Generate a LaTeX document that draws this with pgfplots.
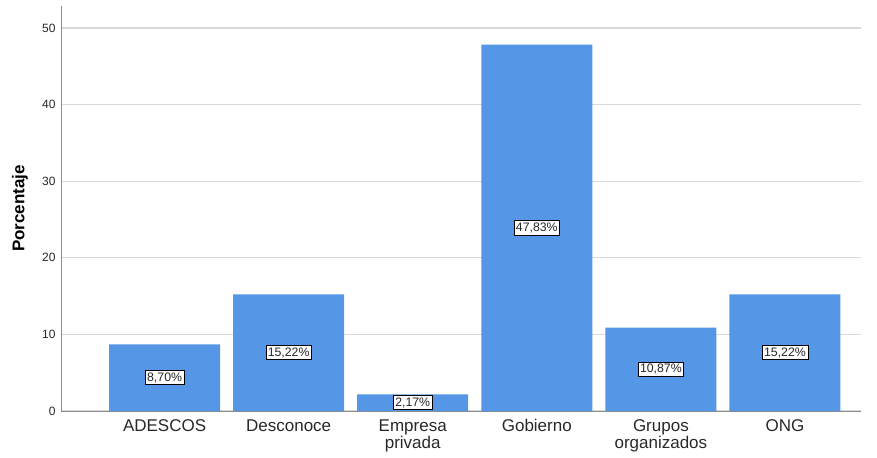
\documentclass[border=0pt]{standalone}
\usepackage{pgfplots}
\pgfplotsset{compat=1.18}
\usepackage{pgfplotstable}
\usepackage{fontspec}
\setmainfont{Liberation Sans}
\definecolor{barblue}{RGB}{85,150,230}
\definecolor{gridgray}{RGB}{217,217,217}
\definecolor{axisgray}{RGB}{140,140,140}
\definecolor{txt}{RGB}{40,40,40}
\pgfplotstableread{
x pct
0 8.70
1 15.22
2 2.17
3 47.83
4 10.87
5 15.22
}\datatable
\begin{document}
\begin{tikzpicture}
\path[use as bounding box] (-61bp,-47bp) rectangle (816bp,411bp);
\begin{axis}[
  scale only axis,
  width=800bp, height=405bp,
  xmin=-0.835, xmax=5.613,
  ymin=0, ymax=52.87,
  ytick={0,10,20,30,40,50},
  xtick={0,1,2,3,4,5},
  xticklabels={ADESCOS,Desconoce,{Empresa\\privada},Gobierno,{Grupos\\organizados},ONG},
  axis x line*=bottom, axis y line*=left,
  axis line style={draw=axisgray, line width=0.9bp},
  major tick length=0pt,
  ymajorgrids,
  grid style={draw=gridgray, line width=1.2bp},
  /pgf/number format/assume math mode=true,
  yticklabel style={font=\fontsize{12bp}{13bp}\selectfont, text=txt, xshift=-2bp},
  xticklabel style={font=\fontsize{17bp}{14.5bp}\selectfont, text=txt, align=center, anchor=north, yshift=-5bp},
  ylabel={Porcentaje},
  ylabel style={at={(axis description cs:-0.05125,0.5)}, anchor=center, font=\fontsize{17bp}{18bp}\selectfont\bfseries, text=black},
  clip=false,
]
\addplot[ybar, bar width=111bp, fill=barblue, draw=none] table[x=x, y=pct] {\datatable};
\addplot[draw=none, mark=none,
  nodes near coords={\pgfmathprintnumber[fixed,fixed zerofill,precision=2,use comma]{\pgfplotspointmeta}\%},
  point meta=\thisrow{pct},
  every node near coord/.style={anchor=center, fill=white, draw=black, line width=0.6bp, inner sep=2bp, font=\fontsize{12.3bp}{13bp}\selectfont, text=txt},
] table[x=x, y expr=\thisrow{pct}/2] {\datatable};
\end{axis}
\end{tikzpicture}
\end{document}
